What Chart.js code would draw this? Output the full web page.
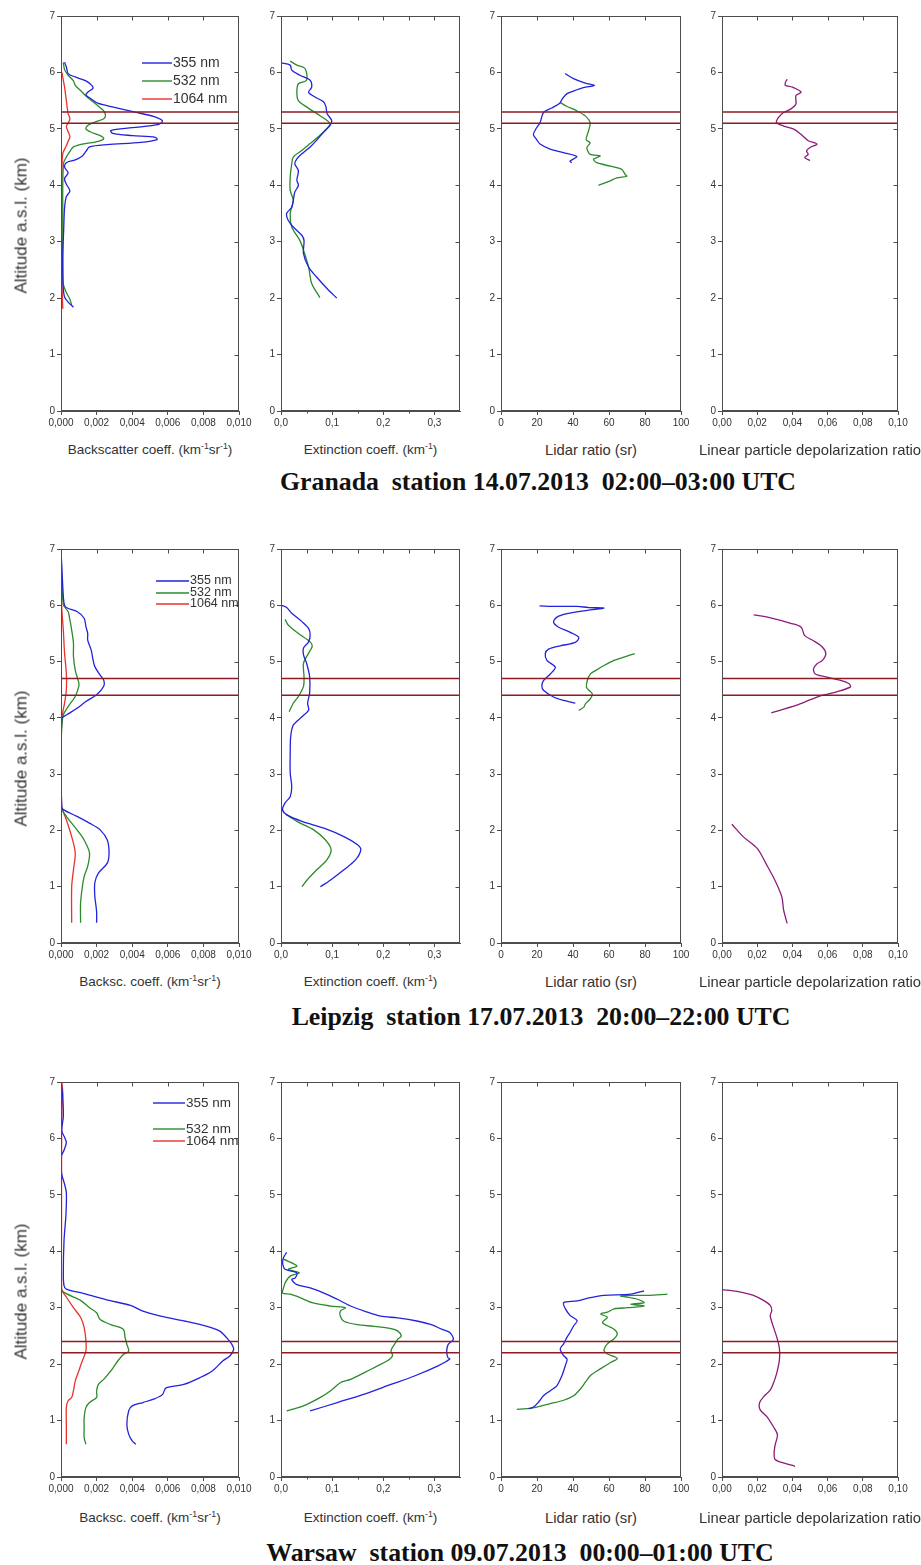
<!DOCTYPE html>
<html lang="en">
<head>
  <meta charset="UTF-8" />
  <title>Lidar profiles - Granada, Leipzig, Warsaw</title>
  <script src="https://cdn.jsdelivr.net/npm/chart.js"></script>
  <style>
    body { margin: 0; background: #fff; }
    #page { position: relative; width: 921px; height: 1565px; overflow: hidden; background: #fff;
            font-family: "Liberation Sans", Arial, sans-serif; color: #333; }
    #page canvas { position: absolute; }
    .axis-title { position: absolute; width: 300px; text-align: center; white-space: nowrap; line-height: 1; }
    .axis-title sup { font-size: 65%; vertical-align: 0.55em; line-height: 0; }
    .y-title { position: absolute; width: 200px; text-align: center; font-size: 17px; line-height: 1;
               white-space: nowrap; transform: rotate(-90deg); }
    .station { position: absolute; width: 700px; text-align: center; white-space: pre; line-height: 1;
               font: bold 25.8px "Liberation Serif", "Times New Roman", serif; color: #111; }
  </style>
</head>
<body>
<div id="page"></div>
<script>
// axis ticks
const ALT_TICKS = [0, 1, 2, 3, 4, 5, 6, 7];
const BSC_TICKS = [0, 0.002, 0.004, 0.006, 0.008, 0.010];
const EXT_TICKS = [0, 0.1, 0.2, 0.3];
const EXT_MINOR = [0.05, 0.15, 0.25];
const LR_TICKS = [0, 20, 40, 60, 80, 100];
const DEP_TICKS = [0, 0.02, 0.04, 0.06, 0.08, 0.10];
const WAVELENGTHS = ['355 nm', '532 nm', '1064 nm'];

// layer boundaries (km)
const GR_LAYER = [5.1, 5.3];
const LE_LAYER = [4.4, 4.7];
const WA_LAYER = [2.2, 2.4];

// ---- Granada 14.07.2013 ----
const GR_BSC_ALT_355 = [6.18, 6.10, 5.98, 5.92, 5.85, 5.78, 5.72, 5.65, 5.60, 5.53, 5.45, 5.38, 5.30, 5.22, 5.14, 5.08, 5.02, 4.97, 4.92, 4.88, 4.85, 4.81, 4.76, 4.72, 4.68, 4.60, 4.52, 4.45, 4.40, 4.32, 4.22, 4.12, 4.02, 3.90, 3.80, 3.60, 3.20, 2.80, 2.50, 2.20, 2.02, 1.93, 1.84];
const GR_BSC_355 = [0.0002, 0.0003, 0.0004, 0.0008, 0.0014, 0.0017, 0.0018, 0.0015, 0.0014, 0.0017, 0.0021, 0.0030, 0.0041, 0.0052, 0.0057, 0.0055, 0.0040, 0.0028, 0.0029, 0.0040, 0.0053, 0.0054, 0.0045, 0.0026, 0.0016, 0.0014, 0.0012, 0.0008, 0.0003, 0.0002, 0.0004, 0.0002, 0.0003, 0.0005, 0.0003, 0.0002, 0.00015, 0.0001, 0.0001, 0.00012, 0.0002, 0.0004, 0.0007];
const GR_BSC_ALT_532 = [6.18, 6.05, 5.95, 5.85, 5.77, 5.68, 5.58, 5.48, 5.40, 5.32, 5.24, 5.18, 5.12, 5.06, 5.00, 4.94, 4.88, 4.83, 4.78, 4.73, 4.68, 4.60, 4.50, 4.40, 4.00, 3.50, 3.00, 2.50, 2.25, 2.10, 1.98, 1.87];
const GR_BSC_532 = [0.00013, 0.0002, 0.0004, 0.0007, 0.0008, 0.0011, 0.0014, 0.0018, 0.0021, 0.0024, 0.0025, 0.0024, 0.0019, 0.0015, 0.0014, 0.0017, 0.0022, 0.0024, 0.0021, 0.0012, 0.0007, 0.0005, 0.0003, 0.00015, 0.0001, 0.0001, 0.0001, 0.0001, 0.00013, 0.0003, 0.0005, 0.0006];
const GR_BSC_ALT_1064 = [6.00, 5.74, 5.50, 5.27, 5.18, 5.10, 5.04, 4.95, 4.86, 4.78, 4.70, 4.56, 4.20, 3.50, 2.80, 2.20, 1.81];
const GR_BSC_1064 = [0.00005, 0.0002, 0.0003, 0.0004, 0.0005, 0.0004, 0.0003, 0.0004, 0.0005, 0.0004, 0.0003, 0.0001, 0.00005, 0.00004, 0.00004, 0.00006, 0.0001];
const GR_EXT_ALT_355 = [6.17, 6.13, 6.04, 5.95, 5.86, 5.74, 5.65, 5.56, 5.48, 5.39, 5.27, 5.15, 5.06, 4.94, 4.80, 4.68, 4.56, 4.47, 4.38, 4.26, 4.09, 4.00, 3.88, 3.73, 3.61, 3.50, 3.38, 3.26, 3.11, 3.02, 2.79, 2.55, 2.37, 2.17, 2.00];
const GR_EXT_355 = [0.0, 0.018, 0.021, 0.037, 0.057, 0.060, 0.054, 0.067, 0.083, 0.088, 0.090, 0.099, 0.096, 0.083, 0.070, 0.057, 0.041, 0.031, 0.027, 0.034, 0.031, 0.034, 0.027, 0.024, 0.021, 0.011, 0.014, 0.024, 0.041, 0.045, 0.044, 0.054, 0.070, 0.090, 0.109];
const GR_EXT_ALT_532 = [6.20, 6.13, 6.07, 5.86, 5.80, 5.65, 5.50, 5.39, 5.27, 5.15, 5.09, 4.97, 4.86, 4.74, 4.62, 4.50, 4.38, 4.15, 3.91, 3.73, 3.50, 3.26, 3.02, 2.85, 2.55, 2.26, 2.01];
const GR_EXT_532 = [0.018, 0.031, 0.047, 0.050, 0.034, 0.031, 0.034, 0.050, 0.070, 0.090, 0.096, 0.086, 0.073, 0.057, 0.041, 0.024, 0.021, 0.018, 0.018, 0.024, 0.018, 0.021, 0.037, 0.044, 0.054, 0.060, 0.076];
const GR_LR_ALT_355 = [5.98, 5.89, 5.81, 5.77, 5.73, 5.67, 5.62, 5.52, 5.46, 5.37, 5.29, 5.11, 5.02, 4.90, 4.81, 4.73, 4.64, 4.58, 4.51, 4.43, 4.40];
const GR_LR_355 = [35.6, 40.3, 46.8, 51.8, 45.8, 40.3, 36.5, 33.8, 32.8, 28.2, 23.6, 21.7, 19.8, 18.0, 19.8, 21.7, 27.3, 34.7, 42.1, 38.4, 39.3];
const GR_LR_ALT_532 = [5.47, 5.40, 5.32, 5.23, 5.11, 4.96, 4.81, 4.75, 4.67, 4.55, 4.52, 4.46, 4.40, 4.34, 4.28, 4.19, 4.16, 4.13, 4.08, 4.00];
const GR_LR_532 = [32.8, 36.5, 42.1, 46.8, 49.5, 48.6, 47.3, 49.5, 47.7, 49.5, 55.1, 51.4, 53.2, 60.7, 67.2, 69.0, 69.9, 64.4, 60.7, 54.2];
const GR_DEP_ALT = [5.88, 5.82, 5.77, 5.74, 5.65, 5.59, 5.44, 5.35, 5.29, 5.20, 5.11, 5.05, 4.99, 4.90, 4.79, 4.73, 4.67, 4.61, 4.55, 4.49, 4.44];
const GR_DEP = [0.037, 0.036, 0.036, 0.040, 0.045, 0.042, 0.042, 0.039, 0.035, 0.032, 0.031, 0.035, 0.041, 0.045, 0.049, 0.054, 0.050, 0.048, 0.049, 0.047, 0.050];

// ---- Leipzig 17.07.2013 ----
const LE_BSC_ALT_355 = [7.0, 6.33, 6.04, 5.96, 5.89, 5.77, 5.62, 5.50, 5.38, 5.20, 5.03, 4.91, 4.76, 4.67, 4.56, 4.41, 4.29, 4.17, 4.05, 3.99, 3.37, 2.43, 2.37, 2.25, 2.13, 2.01, 1.83, 1.60, 1.42, 1.24, 1.07, 0.83, 0.56, 0.36];
const LE_BSC_355 = [0, 0.0001, 0.00017, 0.0003, 0.0009, 0.0013, 0.0014, 0.0015, 0.0015, 0.0017, 0.0018, 0.0019, 0.0022, 0.0024, 0.0024, 0.0020, 0.0014, 0.0009, 0.0003, 0.00004, 0, 0.00004, 0.00013, 0.0009, 0.0016, 0.0022, 0.0026, 0.0027, 0.0026, 0.0021, 0.0019, 0.0019, 0.0020, 0.0020];
const LE_BSC_ALT_532 = [7.0, 6.01, 5.89, 5.74, 5.56, 5.33, 5.09, 4.85, 4.62, 4.56, 4.38, 4.20, 4.02, 3.37, 2.43, 2.25, 2.01, 1.83, 1.60, 1.36, 1.18, 1.00, 0.71, 0.36];
const LE_BSC_532 = [0, 0.00013, 0.0004, 0.0005, 0.0006, 0.0007, 0.0007, 0.0008, 0.0010, 0.0010, 0.0008, 0.0004, 0.0001, 0, 0, 0.0003, 0.0009, 0.0013, 0.0016, 0.0015, 0.0013, 0.0012, 0.0011, 0.0011];
const LE_BSC_ALT_1064 = [7.0, 5.98, 5.56, 5.15, 4.79, 4.50, 4.26, 4.02, 3.37, 2.43, 2.19, 1.89, 1.60, 1.30, 1.00, 0.36];
const LE_BSC_1064 = [0, 0.00004, 0.00013, 0.0002, 0.0003, 0.0003, 0.0002, 0.00006, 0, 0.00004, 0.0003, 0.0006, 0.0008, 0.0007, 0.0006, 0.0006];
const LE_EXT_ALT_355 = [6.0, 5.96, 5.86, 5.71, 5.59, 5.47, 5.35, 5.24, 5.12, 4.97, 4.73, 4.44, 4.26, 4.14, 4.02, 3.87, 3.67, 3.37, 3.02, 2.78, 2.60, 2.49, 2.37, 2.28, 2.16, 2.04, 1.89, 1.75, 1.66, 1.48, 1.30, 1.12, 1.00];
const LE_EXT_355 = [0.001, 0.011, 0.021, 0.041, 0.054, 0.057, 0.054, 0.044, 0.044, 0.050, 0.056, 0.056, 0.052, 0.054, 0.041, 0.024, 0.019, 0.018, 0.018, 0.021, 0.018, 0.008, 0.003, 0.011, 0.041, 0.084, 0.123, 0.149, 0.156, 0.146, 0.123, 0.097, 0.077];
const LE_EXT_ALT_532 = [5.75, 5.65, 5.50, 5.35, 5.27, 5.15, 4.97, 4.73, 4.56, 4.38, 4.26, 4.11, null, 2.28, 2.16, 2.01, 1.83, 1.66, 1.48, 1.30, 1.12, 1.00];
const LE_EXT_532 = [0.008, 0.014, 0.034, 0.057, 0.061, 0.054, 0.044, 0.045, 0.044, 0.034, 0.024, 0.016, null, 0.010, 0.031, 0.064, 0.087, 0.098, 0.090, 0.070, 0.051, 0.041];
const LE_LR_ALT_355 = [5.99, 5.98, 5.98, 5.96, 5.95, 5.91, 5.85, 5.79, 5.70, 5.61, 5.52, 5.43, 5.34, 5.28, 5.22, 5.14, 5.02, 4.90, 4.78, 4.66, 4.57, 4.49, 4.37, 4.31, 4.26];
const LE_LR_355 = [21.4, 31.1, 42.3, 48.8, 57.2, 47.9, 36.7, 31.1, 29.2, 32.0, 38.5, 43.2, 41.3, 32.9, 26.4, 24.6, 25.5, 30.2, 27.4, 23.6, 22.7, 23.6, 29.2, 34.8, 41.3];
const LE_LR_ALT_532 = [5.14, 5.08, 5.02, 4.93, 4.84, 4.78, 4.66, 4.54, 4.49, 4.43, 4.34, 4.25, 4.19, 4.13];
const LE_LR_532 = [74.3, 68.3, 62.8, 57.2, 52.5, 49.7, 47.9, 47.5, 48.8, 50.7, 49.7, 46.9, 46.0, 43.2];
const LE_DEP_ALT = [5.83, 5.78, 5.68, 5.61, 5.46, 5.37, 5.26, 5.14, 5.02, 4.96, 4.87, 4.78, 4.73, 4.67, 4.61, 4.55, 4.46, 4.37, 4.22, 4.09, null, 2.11, 1.89, 1.68, 1.41, 1.12, 0.82, 0.59, 0.35];
const LE_DEP = [0.018, 0.027, 0.039, 0.045, 0.047, 0.052, 0.057, 0.059, 0.057, 0.054, 0.052, 0.053, 0.059, 0.067, 0.072, 0.073, 0.065, 0.054, 0.042, 0.028, null, 0.0056, 0.012, 0.020, 0.025, 0.030, 0.034, 0.035, 0.037];

// ---- Warsaw 09.07.2013 ----
const WA_BSC_ALT_355 = [7.0, 6.73, 6.38, 6.14, 6.02, 5.93, 5.79, 5.67, 5.37, 5.19, 5.04, 4.66, 4.19, 3.60, 3.39, 3.33, 3.25, 3.13, 3.04, 2.94, 2.85, 2.76, 2.67, 2.59, 2.47, 2.35, 2.26, 2.15, 2.06, 1.88, 1.76, 1.64, 1.58, 1.46, 1.38, 1.32, 1.26, 1.17, 0.93, 0.76, 0.64, 0.58];
const WA_BSC_355 = [0, 0.0001, 0.00013, 0.00004, 0.0002, 0.0003, 0.00017, 0, 0.00004, 0.0002, 0.0003, 0.00028, 0.00017, 0.00013, 0.00017, 0.0003, 0.0013, 0.0027, 0.0039, 0.0046, 0.0056, 0.0070, 0.0082, 0.0089, 0.0093, 0.0096, 0.0097, 0.0095, 0.0091, 0.0085, 0.0078, 0.0069, 0.0059, 0.0057, 0.0052, 0.0046, 0.0040, 0.0038, 0.0037, 0.0038, 0.0040, 0.0042];
const WA_BSC_ALT_532 = [7.0, 5.0, 3.33, 3.25, 3.13, 3.00, 2.91, 2.79, 2.70, 2.62, 2.47, 2.35, 2.23, 2.17, 2.06, 1.88, 1.73, 1.64, 1.52, 1.41, 1.32, 1.23, 1.05, 0.88, 0.70, 0.58];
const WA_BSC_532 = [0, 0, 0, 0.0003, 0.0011, 0.0016, 0.0020, 0.0022, 0.0028, 0.0035, 0.0036, 0.0037, 0.0038, 0.0035, 0.0032, 0.0028, 0.0024, 0.0021, 0.0020, 0.0020, 0.0016, 0.0014, 0.0013, 0.0013, 0.0013, 0.0014];
const WA_BSC_ALT_1064 = [7.0, 6.8, 6.5, 5.5, 4.5, 3.33, 3.19, 3.00, 2.83, 2.65, 2.41, 2.23, 2.06, 1.88, 1.70, 1.53, 1.41, 1.35, 1.23, 0.93, 0.58];
const WA_BSC_1064 = [0.00005, 0.0001, 0.00005, 0.00003, 0.00003, 0.00004, 0.0003, 0.0007, 0.0011, 0.0013, 0.0014, 0.0014, 0.0012, 0.0010, 0.0008, 0.0007, 0.0006, 0.0004, 0.0003, 0.0003, 0.0003];
const WA_EXT_ALT_355 = [3.98, 3.89, 3.80, 3.68, 3.62, 3.53, 3.50, 3.41, 3.35, 3.26, 3.15, 3.03, 2.94, 2.85, 2.82, 2.76, 2.70, 2.62, 2.56, 2.44, 2.35, 2.24, 2.12, 2.09, 1.97, 1.79, 1.64, 1.47, 1.32, 1.17];
const WA_EXT_355 = [0.011, 0.005, 0.003, 0.008, 0.031, 0.028, 0.021, 0.031, 0.057, 0.084, 0.110, 0.136, 0.163, 0.195, 0.228, 0.268, 0.294, 0.314, 0.330, 0.337, 0.327, 0.324, 0.326, 0.330, 0.307, 0.261, 0.215, 0.163, 0.110, 0.057];
const WA_EXT_ALT_532 = [3.86, 3.74, 3.68, 3.62, 3.56, 3.44, 3.35, 3.26, 3.24, 3.18, 3.09, 3.03, 3.00, 2.94, 2.85, 2.76, 2.70, 2.67, 2.63, 2.59, 2.50, 2.44, 2.35, 2.24, 2.15, 2.06, 1.97, 1.85, 1.73, 1.67, 1.53, 1.41, 1.26, 1.17];
const WA_EXT_532 = [0.005, 0.031, 0.014, 0.036, 0.018, 0.008, 0.005, 0.003, 0.018, 0.037, 0.061, 0.097, 0.126, 0.116, 0.116, 0.123, 0.149, 0.182, 0.215, 0.228, 0.235, 0.228, 0.222, 0.215, 0.218, 0.208, 0.189, 0.163, 0.136, 0.116, 0.097, 0.077, 0.044, 0.011];
const WA_LR_ALT_355 = [3.30, 3.24, 3.22, 3.18, 3.12, 3.09, 2.98, 2.86, 2.77, 2.68, 2.57, 2.48, 2.36, 2.27, 2.15, 2.09, 1.98, 1.80, 1.62, 1.53, 1.44, 1.33, 1.24, 1.21];
const WA_LR_355 = [79.5, 72.1, 57.2, 49.7, 42.3, 34.8, 35.8, 38.5, 42.3, 40.4, 38.5, 36.7, 34.8, 32.9, 34.8, 36.7, 35.8, 33.9, 31.1, 27.4, 23.6, 20.9, 18.1, 15.3];
const WA_LR_ALT_532 = [3.24, 3.22, 3.21, 3.15, 3.09, 3.06, 3.03, 3.00, 2.98, 2.92, 2.89, 2.83, 2.74, 2.68, 2.62, 2.54, 2.45, 2.36, 2.24, 2.18, 2.10, 2.03, 1.92, 1.80, 1.68, 1.56, 1.44, 1.36, 1.30, 1.24, 1.21, 1.20];
const WA_LR_532 = [92.5, 81.4, 66.5, 75.8, 79.5, 72.1, 79.5, 70.2, 62.8, 59.1, 55.4, 59.1, 56.4, 59.1, 62.8, 64.6, 62.8, 59.1, 57.2, 59.1, 64.6, 60.9, 55.4, 49.7, 46.9, 44.1, 40.4, 34.8, 27.4, 19.9, 14.3, 8.8];
const WA_DEP_ALT = [3.32, 3.29, 3.22, 3.13, 3.04, 2.95, 2.86, 2.66, 2.48, 2.28, 2.07, 1.84, 1.66, 1.54, 1.42, 1.31, 1.19, 1.07, 0.89, 0.75, 0.57, 0.42, 0.31, 0.25, 0.19];
const WA_DEP = [0.0, 0.0085, 0.0179, 0.0236, 0.0274, 0.0283, 0.0274, 0.0292, 0.0311, 0.0326, 0.0326, 0.0311, 0.0292, 0.0274, 0.0236, 0.0213, 0.0217, 0.0255, 0.0292, 0.0315, 0.0302, 0.0296, 0.0302, 0.0349, 0.0415];

// ---- styling / layout ----
const AXIS = '#4d4d4d';
const C355 = '#2222dd', C532 = '#2b8a2b', C1064 = '#e8332b', CDEP = '#8c1c7a', CLAYER = '#8e1b22';
const FONT = '"Liberation Sans", Arial, sans-serif';
const PANEL_X = [[61, 239], [281, 460], [501, 681], [722, 898]];
const PAD_L = 45, PAD_T = 12, PAD_R = 24, X_AXIS_H = 30;
const TITLE_SIZES = [13.5, 13.5, 14.8, 14.8];

const page = document.getElementById('page');

const fmt = dec => v => Number(v).toFixed(dec).replace('.', ',');

function profile(alt, val, color) {
  return {
    data: alt.map((a, i) => ({ x: val[i], y: a })),
    borderColor: color, borderWidth: 1.3, pointRadius: 0,
    showLine: true, tension: 0.3, spanGaps: false
  };
}

function layerLines(layer, xMin, xMax) {
  return layer.map(h => ({
    data: [{ x: xMin, y: h }, { x: xMax, y: h }],
    borderColor: CLAYER, borderWidth: 1.5, pointRadius: 0, showLine: true, tension: 0
  }));
}

// closed frame, inward ticks on top/right, minor ticks, in-plot legend
const framePlugin = {
  id: 'frame',
  afterDraw(chart, args, o) {
    const { ctx, chartArea: a, scales: { x, y } } = chart;
    const L = Math.round(a.left) + 0.5, R = Math.round(a.right) - 0.5;
    const T = Math.round(a.top) + 0.5, B = Math.round(a.bottom) - 0.5;
    ctx.save();
    ctx.strokeStyle = AXIS;
    ctx.lineWidth = 1;
    ctx.strokeRect(L, T, R - L, B - T);
    ctx.beginPath();
    const xs = x.ticks.map(t => t.value).concat(o.minor || []);
    xs.forEach(v => {
      const px = Math.round(x.getPixelForValue(v)) + 0.5;
      if (px <= L + 1 || px >= R - 1) return;
      ctx.moveTo(px, T); ctx.lineTo(px, T + 4);
    });
    (o.minor || []).forEach(v => {
      const px = Math.round(x.getPixelForValue(v)) + 0.5;
      ctx.moveTo(px, B); ctx.lineTo(px, B + 3);
    });
    y.ticks.forEach(t => {
      const py = Math.round(y.getPixelForValue(t.value)) + 0.5;
      if (py <= T + 1 || py >= B - 1) return;
      ctx.moveTo(R, py); ctx.lineTo(R - 4, py);
    });
    ctx.stroke();
    if (o.legend) {
      const lg = o.legend;
      ctx.font = lg.size + 'px ' + FONT;
      ctx.textBaseline = 'middle';
      ctx.textAlign = 'left';
      WAVELENGTHS.forEach((label, i) => {
        const yy = a.top + lg.dys[i];
        ctx.strokeStyle = [C355, C532, C1064][i];
        ctx.lineWidth = 1.4;
        ctx.beginPath();
        ctx.moveTo(a.left + lg.dx, yy);
        ctx.lineTo(a.left + lg.dx + lg.len, yy);
        ctx.stroke();
        ctx.fillStyle = '#333';
        ctx.fillText(label, a.left + lg.dx + lg.len + 1, yy);
      });
    }
    ctx.restore();
  }
};

function addDiv(cls, html, left, top, style) {
  const d = document.createElement('div');
  d.className = cls;
  d.innerHTML = html;
  d.style.left = left + 'px';
  d.style.top = top + 'px';
  Object.assign(d.style, style || {});
  page.appendChild(d);
}

function makePanel(col, row, spec) {
  const [x0, x1] = PANEL_X[col];
  const cv = document.createElement('canvas');
  cv.width = x1 - x0 + PAD_L + PAD_R;
  cv.height = row.bottom - row.top + PAD_T + X_AXIS_H;
  cv.style.left = (x0 - PAD_L) + 'px';
  cv.style.top = (row.top - PAD_T) + 'px';
  page.appendChild(cv);

  const grid = { drawOnChartArea: false, drawTicks: true, tickLength: 4, color: AXIS, lineWidth: 1 };
  const border = { display: true, color: AXIS, width: 1 };
  const tickFont = { family: FONT, size: 10 };

  new Chart(cv, {
    type: 'scatter',
    data: { datasets: layerLines(row.layer, spec.min, spec.max).concat(spec.curves) },
    options: {
      responsive: false, animation: false, events: [], devicePixelRatio: 1,
      layout: { padding: { left: 0, top: PAD_T, right: PAD_R, bottom: 0 } },
      plugins: {
        legend: { display: false }, tooltip: { enabled: false },
        frame: { minor: spec.minor || [], legend: spec.legend || null }
      },
      scales: {
        x: {
          type: 'linear', position: 'bottom', min: spec.min, max: spec.max,
          afterBuildTicks: s => { s.ticks = spec.ticks.map(v => ({ value: v })); },
          afterFit: s => { s.height = X_AXIS_H; },
          ticks: { callback: spec.fmt, font: tickFont, color: '#333', padding: 2, maxRotation: 0, autoSkip: false },
          grid: grid, border: border
        },
        y: {
          type: 'linear', position: 'left', min: 0, max: 7,
          afterBuildTicks: s => { s.ticks = ALT_TICKS.map(v => ({ value: v })); },
          afterFit: s => { s.width = PAD_L; },
          ticks: { callback: v => String(v), font: tickFont, color: '#333', padding: 2 },
          grid: grid, border: border
        }
      }
    },
    plugins: [framePlugin]
  });

  // x axis title as html (it is wider than the narrow panels)
  const cx = (x0 + x1) / 2;
  const size = TITLE_SIZES[col];
  addDiv('axis-title', spec.title, cx - 150, row.xTitleY - size / 2, { fontSize: size + 'px' });
}

const ROWS = [
  {
    top: 16, bottom: 411, layer: GR_LAYER, xTitleY: 450,
    station: 'Granada  station 14.07.2013  02:00\u201303:00 UTC', stationX: 538, stationY: 480,
    bscTitle: 'Backscatter coeff.',
    legend: { dx: 81, dys: [47, 65, 83], len: 30, size: 14 },
    bsc: [[GR_BSC_ALT_355, GR_BSC_355], [GR_BSC_ALT_532, GR_BSC_532], [GR_BSC_ALT_1064, GR_BSC_1064]],
    ext: [[GR_EXT_ALT_355, GR_EXT_355], [GR_EXT_ALT_532, GR_EXT_532]],
    lr: [[GR_LR_ALT_355, GR_LR_355], [GR_LR_ALT_532, GR_LR_532]],
    dep: [GR_DEP_ALT, GR_DEP]
  },
  {
    top: 549, bottom: 943, layer: LE_LAYER, xTitleY: 982,
    station: 'Leipzig  station 17.07.2013  20:00\u201322:00 UTC', stationX: 541, stationY: 1015,
    bscTitle: 'Backsc. coeff.',
    legend: { dx: 95, dys: [32, 44, 55], len: 33, size: 12.5 },
    bsc: [[LE_BSC_ALT_355, LE_BSC_355], [LE_BSC_ALT_532, LE_BSC_532], [LE_BSC_ALT_1064, LE_BSC_1064]],
    ext: [[LE_EXT_ALT_355, LE_EXT_355], [LE_EXT_ALT_532, LE_EXT_532]],
    lr: [[LE_LR_ALT_355, LE_LR_355], [LE_LR_ALT_532, LE_LR_532]],
    dep: [LE_DEP_ALT, LE_DEP]
  },
  {
    top: 1082, bottom: 1477, layer: WA_LAYER, xTitleY: 1518,
    station: 'Warsaw  station 09.07.2013  00:00\u201301:00 UTC', stationX: 520, stationY: 1551,
    bscTitle: 'Backsc. coeff.',
    legend: { dx: 92, dys: [21, 47, 59], len: 32, size: 13.5 },
    bsc: [[WA_BSC_ALT_355, WA_BSC_355], [WA_BSC_ALT_532, WA_BSC_532], [WA_BSC_ALT_1064, WA_BSC_1064]],
    ext: [[WA_EXT_ALT_355, WA_EXT_355], [WA_EXT_ALT_532, WA_EXT_532]],
    lr: [[WA_LR_ALT_355, WA_LR_355], [WA_LR_ALT_532, WA_LR_532]],
    dep: [WA_DEP_ALT, WA_DEP]
  }
];

ROWS.forEach(row => {
  makePanel(0, row, {
    min: 0, max: 0.010, ticks: BSC_TICKS, fmt: fmt(3), legend: row.legend,
    title: row.bscTitle + ' (km<sup>-1</sup>sr<sup>-1</sup>)',
    curves: [profile(row.bsc[0][0], row.bsc[0][1], C355), profile(row.bsc[1][0], row.bsc[1][1], C532),
             profile(row.bsc[2][0], row.bsc[2][1], C1064)]
  });
  makePanel(1, row, {
    min: 0, max: 0.35, ticks: EXT_TICKS, minor: EXT_MINOR, fmt: fmt(1),
    title: 'Extinction coeff. (km<sup>-1</sup>)',
    curves: [profile(row.ext[0][0], row.ext[0][1], C355), profile(row.ext[1][0], row.ext[1][1], C532)]
  });
  makePanel(2, row, {
    min: 0, max: 100, ticks: LR_TICKS, fmt: fmt(0),
    title: 'Lidar ratio (sr)',
    curves: [profile(row.lr[0][0], row.lr[0][1], C355), profile(row.lr[1][0], row.lr[1][1], C532)]
  });
  makePanel(3, row, {
    min: 0, max: 0.10, ticks: DEP_TICKS, fmt: fmt(2),
    title: 'Linear particle depolarization ratio',
    curves: [profile(row.dep[0], row.dep[1], CDEP)]
  });

  // y axis title on the first panel
  const cy = (row.top + row.bottom) / 2 + 12;
  addDiv('y-title', 'Altitude a.s.l. (km)', 21 - 100, cy - 8.5);
  // station caption
  addDiv('station', row.station, row.stationX - 350, row.stationY - 13);
});
</script>
</body>
</html>
